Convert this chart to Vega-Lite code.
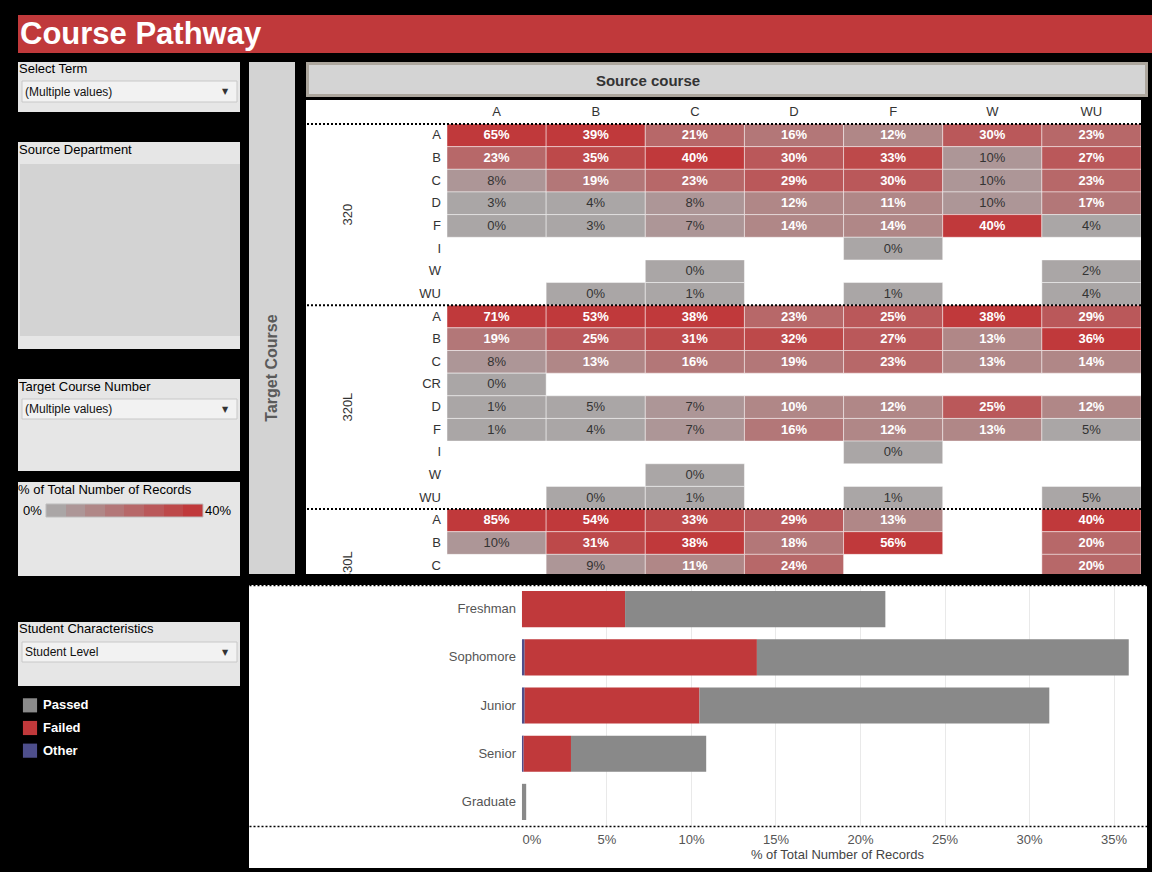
{
  "$schema": "https://vega.github.io/schema/vega-lite/v6.json",
  "background": "black",
  "padding": {"left": 18, "top": 15, "right": 0, "bottom": 4},
  "config": {"font": "Liberation Sans", "view": {"stroke": null}},
  "datasets": {
    "cells": [
      {"key":"320|A","src":"A","p":0.65},{"key":"320|A","src":"B","p":0.39},{"key":"320|A","src":"C","p":0.21},{"key":"320|A","src":"D","p":0.16},{"key":"320|A","src":"F","p":0.12},{"key":"320|A","src":"W","p":0.30},{"key":"320|A","src":"WU","p":0.23},
      {"key":"320|B","src":"A","p":0.23},{"key":"320|B","src":"B","p":0.35},{"key":"320|B","src":"C","p":0.40},{"key":"320|B","src":"D","p":0.30},{"key":"320|B","src":"F","p":0.33},{"key":"320|B","src":"W","p":0.098},{"key":"320|B","src":"WU","p":0.27},
      {"key":"320|C","src":"A","p":0.08},{"key":"320|C","src":"B","p":0.19},{"key":"320|C","src":"C","p":0.23},{"key":"320|C","src":"D","p":0.29},{"key":"320|C","src":"F","p":0.30},{"key":"320|C","src":"W","p":0.098},{"key":"320|C","src":"WU","p":0.23},
      {"key":"320|D","src":"A","p":0.03},{"key":"320|D","src":"B","p":0.04},{"key":"320|D","src":"C","p":0.08},{"key":"320|D","src":"D","p":0.12},{"key":"320|D","src":"F","p":0.11},{"key":"320|D","src":"W","p":0.098},{"key":"320|D","src":"WU","p":0.17},
      {"key":"320|F","src":"A","p":0.003},{"key":"320|F","src":"B","p":0.03},{"key":"320|F","src":"C","p":0.07},{"key":"320|F","src":"D","p":0.14},{"key":"320|F","src":"F","p":0.14},{"key":"320|F","src":"W","p":0.40},{"key":"320|F","src":"WU","p":0.04},
      {"key":"320|I","src":"F","p":0.003},
      {"key":"320|W","src":"C","p":0.003},{"key":"320|W","src":"WU","p":0.02},
      {"key":"320|WU","src":"B","p":0.004},{"key":"320|WU","src":"C","p":0.01},{"key":"320|WU","src":"F","p":0.01},{"key":"320|WU","src":"WU","p":0.04},
      {"key":"320L|A","src":"A","p":0.71},{"key":"320L|A","src":"B","p":0.53},{"key":"320L|A","src":"C","p":0.38},{"key":"320L|A","src":"D","p":0.23},{"key":"320L|A","src":"F","p":0.25},{"key":"320L|A","src":"W","p":0.38},{"key":"320L|A","src":"WU","p":0.29},
      {"key":"320L|B","src":"A","p":0.19},{"key":"320L|B","src":"B","p":0.25},{"key":"320L|B","src":"C","p":0.31},{"key":"320L|B","src":"D","p":0.32},{"key":"320L|B","src":"F","p":0.27},{"key":"320L|B","src":"W","p":0.13},{"key":"320L|B","src":"WU","p":0.36},
      {"key":"320L|C","src":"A","p":0.08},{"key":"320L|C","src":"B","p":0.13},{"key":"320L|C","src":"C","p":0.16},{"key":"320L|C","src":"D","p":0.19},{"key":"320L|C","src":"F","p":0.23},{"key":"320L|C","src":"W","p":0.13},{"key":"320L|C","src":"WU","p":0.14},
      {"key":"320L|CR","src":"A","p":0.003},
      {"key":"320L|D","src":"A","p":0.01},{"key":"320L|D","src":"B","p":0.048},{"key":"320L|D","src":"C","p":0.07},{"key":"320L|D","src":"D","p":0.104},{"key":"320L|D","src":"F","p":0.12},{"key":"320L|D","src":"W","p":0.25},{"key":"320L|D","src":"WU","p":0.12},
      {"key":"320L|F","src":"A","p":0.01},{"key":"320L|F","src":"B","p":0.04},{"key":"320L|F","src":"C","p":0.07},{"key":"320L|F","src":"D","p":0.16},{"key":"320L|F","src":"F","p":0.12},{"key":"320L|F","src":"W","p":0.13},{"key":"320L|F","src":"WU","p":0.048},
      {"key":"320L|I","src":"F","p":0.003},
      {"key":"320L|W","src":"C","p":0.003},
      {"key":"320L|WU","src":"B","p":0.003},{"key":"320L|WU","src":"C","p":0.01},{"key":"320L|WU","src":"F","p":0.01},{"key":"320L|WU","src":"WU","p":0.048},
      {"key":"330L|A","src":"A","p":0.85},{"key":"330L|A","src":"B","p":0.54},{"key":"330L|A","src":"C","p":0.33},{"key":"330L|A","src":"D","p":0.29},{"key":"330L|A","src":"F","p":0.13},{"key":"330L|A","src":"WU","p":0.40},
      {"key":"330L|B","src":"A","p":0.099},{"key":"330L|B","src":"B","p":0.31},{"key":"330L|B","src":"C","p":0.38},{"key":"330L|B","src":"D","p":0.18},{"key":"330L|B","src":"F","p":0.56},{"key":"330L|B","src":"WU","p":0.20},
      {"key":"330L|C","src":"B","p":0.09},{"key":"330L|C","src":"C","p":0.11},{"key":"330L|C","src":"D","p":0.24},{"key":"330L|C","src":"WU","p":0.20}
    ],
    "rowlabels": [
      {"key":"320|A","grade":"A"},{"key":"320|B","grade":"B"},{"key":"320|C","grade":"C"},{"key":"320|D","grade":"D"},{"key":"320|F","grade":"F"},{"key":"320|I","grade":"I"},{"key":"320|W","grade":"W"},{"key":"320|WU","grade":"WU"},
      {"key":"320L|A","grade":"A"},{"key":"320L|B","grade":"B"},{"key":"320L|C","grade":"C"},{"key":"320L|CR","grade":"CR"},{"key":"320L|D","grade":"D"},{"key":"320L|F","grade":"F"},{"key":"320L|I","grade":"I"},{"key":"320L|W","grade":"W"},{"key":"320L|WU","grade":"WU"},
      {"key":"330L|A","grade":"A"},{"key":"330L|B","grade":"B"},{"key":"330L|C","grade":"C"}
    ],
    "groups": [
      {"grp":"320","first":"320|A","mid":"320|F"},
      {"grp":"320L","first":"320L|A","mid":"320L|D"},
      {"grp":"330L","first":"330L|A","mid":"330L|C"}
    ],
    "bars": [
      {"level":"Freshman","status":"Failed","pct":0.061},{"level":"Freshman","status":"Passed","pct":0.154},
      {"level":"Sophomore","status":"Other","pct":0.0016},{"level":"Sophomore","status":"Failed","pct":0.1374},{"level":"Sophomore","status":"Passed","pct":0.220},
      {"level":"Junior","status":"Other","pct":0.0016},{"level":"Junior","status":"Failed","pct":0.1034},{"level":"Junior","status":"Passed","pct":0.207},
      {"level":"Senior","status":"Other","pct":0.001},{"level":"Senior","status":"Failed","pct":0.028},{"level":"Senior","status":"Passed","pct":0.080},
      {"level":"Graduate","status":"Passed","pct":0.0025}
    ],
    "levels": [{"level":"Freshman"},{"level":"Sophomore"},{"level":"Junior"},{"level":"Senior"},{"level":"Graduate"}]
  },
  "vconcat": [
    {
      "width": 1134, "height": 38,
      "view": {"fill": "#c0393b", "stroke": null},
      "data": {"values": [{"title": "Course Pathway"}]},
      "mark": {"type": "text", "align": "left", "baseline": "middle", "fontSize": 31, "fontWeight": "bold", "color": "white", "dy": 1},
      "encoding": {
        "text": {"field": "title"},
        "x": {"datum": 2, "type": "quantitative", "scale": {"domain": [0, 1134], "nice": false}, "axis": null}
      }
    },
    {
      "hconcat": [
        {
          "vconcat": [
            {
              "vconcat": [
                {
                  "vconcat": [
                    {
                      "width": 222, "height": 50,
                      "view": {"fill": "#e6e6e6", "stroke": null},
                      "data": {"values": [{"label": "Select Term", "value": "(Multiple values)"}]},
                      "layer": [
                        {"mark": {"type": "rect", "fill": "#f2f2f2", "stroke": "#c8c8c8", "strokeWidth": 1},
                         "encoding": {"x": {"datum": 4, "type": "quantitative", "scale": {"domain": [0, 222], "nice": false}, "axis": null}, "x2": {"datum": 219},
                                      "y": {"datum": 19, "type": "quantitative", "scale": {"domain": [0, 50], "nice": false, "reverse": true}, "axis": null}, "y2": {"datum": 40}}},
                        {"mark": {"type": "text", "align": "left", "baseline": "middle", "fontSize": 13, "color": "#000"},
                         "encoding": {"text": {"field": "label"}, "x": {"datum": 1, "type": "quantitative", "axis": null}, "y": {"datum": 7, "type": "quantitative", "axis": null}}},
                        {"mark": {"type": "text", "align": "left", "baseline": "middle", "fontSize": 12, "color": "#111"},
                         "encoding": {"text": {"field": "value"}, "x": {"datum": 7, "type": "quantitative", "axis": null}, "y": {"datum": 29.5, "type": "quantitative", "axis": null}}},
                        {"mark": {"type": "text", "align": "center", "baseline": "middle", "fontSize": 8, "color": "#333", "text": "▼", "font": "DejaVu Sans"},
                         "encoding": {"x": {"datum": 207, "type": "quantitative", "axis": null}, "y": {"datum": 30, "type": "quantitative", "axis": null}}}
                      ]
                    },
                    {
                      "width": 222, "height": 207,
                      "view": {"fill": "#e6e6e6", "stroke": null},
                      "data": {"values": [{"label": "Source Department"}]},
                      "layer": [
                        {"mark": {"type": "rect", "fill": "#d3d3d3"},
                         "encoding": {"x": {"datum": 2, "type": "quantitative", "scale": {"domain": [0, 222], "nice": false}, "axis": null}, "x2": {"datum": 222},
                                      "y": {"datum": 22, "type": "quantitative", "scale": {"domain": [0, 207], "nice": false, "reverse": true}, "axis": null}, "y2": {"datum": 194}}},
                        {"mark": {"type": "text", "align": "left", "baseline": "middle", "fontSize": 13, "color": "#000"},
                         "encoding": {"text": {"field": "label"}, "x": {"datum": 1, "type": "quantitative", "axis": null}, "y": {"datum": 8, "type": "quantitative", "axis": null}}}
                      ]
                    },
                    {
                      "width": 222, "height": 92,
                      "view": {"fill": "#e6e6e6", "stroke": null},
                      "data": {"values": [{"label": "Target Course Number", "value": "(Multiple values)"}]},
                      "layer": [
                        {"mark": {"type": "rect", "fill": "#f2f2f2", "stroke": "#c8c8c8", "strokeWidth": 1},
                         "encoding": {"x": {"datum": 4, "type": "quantitative", "scale": {"domain": [0, 222], "nice": false}, "axis": null}, "x2": {"datum": 219},
                                      "y": {"datum": 20, "type": "quantitative", "scale": {"domain": [0, 92], "nice": false, "reverse": true}, "axis": null}, "y2": {"datum": 40}}},
                        {"mark": {"type": "text", "align": "left", "baseline": "middle", "fontSize": 13, "color": "#000"},
                         "encoding": {"text": {"field": "label"}, "x": {"datum": 1, "type": "quantitative", "axis": null}, "y": {"datum": 8, "type": "quantitative", "axis": null}}},
                        {"mark": {"type": "text", "align": "left", "baseline": "middle", "fontSize": 12, "color": "#111"},
                         "encoding": {"text": {"field": "value"}, "x": {"datum": 7, "type": "quantitative", "axis": null}, "y": {"datum": 30, "type": "quantitative", "axis": null}}},
                        {"mark": {"type": "text", "align": "center", "baseline": "middle", "fontSize": 8, "color": "#333", "text": "▼", "font": "DejaVu Sans"},
                         "encoding": {"x": {"datum": 207, "type": "quantitative", "axis": null}, "y": {"datum": 30.5, "type": "quantitative", "axis": null}}}
                      ]
                    }
                  ],
                  "spacing": 30
                },
                {
                  "width": 222, "height": 94,
                  "view": {"fill": "#e6e6e6", "stroke": null},
                  "data": {"values": [{"label": "% of Total Number of Records", "lo": "0%", "hi": "40%"}]},
                  "layer": [
                    {"mark": {"type": "rect", "stroke": "#bdbdbd", "strokeWidth": 1,
                              "fill": {"gradient": "linear", "x1": 0, "y1": 0, "x2": 1, "y2": 0, "stops": [
                                {"offset": 0, "color": "#aaa6a6"}, {"offset": 0.125, "color": "#aaa6a6"},
                                {"offset": 0.125, "color": "#ad9697"}, {"offset": 0.25, "color": "#ad9697"},
                                {"offset": 0.25, "color": "#b08787"}, {"offset": 0.375, "color": "#b08787"},
                                {"offset": 0.375, "color": "#b37778"}, {"offset": 0.5, "color": "#b37778"},
                                {"offset": 0.5, "color": "#b76869"}, {"offset": 0.625, "color": "#b76869"},
                                {"offset": 0.625, "color": "#ba585a"}, {"offset": 0.75, "color": "#ba585a"},
                                {"offset": 0.75, "color": "#bd494a"}, {"offset": 0.875, "color": "#bd494a"},
                                {"offset": 0.875, "color": "#c0393b"}, {"offset": 1, "color": "#c0393b"}]}},
                     "encoding": {"x": {"datum": 28, "type": "quantitative", "scale": {"domain": [0, 222], "nice": false}, "axis": null}, "x2": {"datum": 185},
                                  "y": {"datum": 22, "type": "quantitative", "scale": {"domain": [0, 94], "nice": false, "reverse": true}, "axis": null}, "y2": {"datum": 35}}},
                    {"mark": {"type": "text", "align": "left", "baseline": "middle", "fontSize": 13, "color": "#000"},
                     "encoding": {"text": {"field": "label"}, "x": {"datum": 0, "type": "quantitative", "axis": null}, "y": {"datum": 8, "type": "quantitative", "axis": null}}},
                    {"mark": {"type": "text", "align": "left", "baseline": "middle", "fontSize": 13, "color": "#000"},
                     "encoding": {"text": {"field": "lo"}, "x": {"datum": 5, "type": "quantitative", "axis": null}, "y": {"datum": 28.5, "type": "quantitative", "axis": null}}},
                    {"mark": {"type": "text", "align": "left", "baseline": "middle", "fontSize": 13, "color": "#000"},
                     "encoding": {"text": {"field": "hi"}, "x": {"datum": 187, "type": "quantitative", "axis": null}, "y": {"datum": 28.5, "type": "quantitative", "axis": null}}}
                  ]
                }
              ],
              "spacing": 11
            },
            {
              "vconcat": [
                {
                  "width": 222, "height": 64,
                  "view": {"fill": "#e6e6e6", "stroke": null},
                  "data": {"values": [{"label": "Student Characteristics", "value": "Student Level"}]},
                  "layer": [
                    {"mark": {"type": "rect", "fill": "#f2f2f2", "stroke": "#c8c8c8", "strokeWidth": 1},
                     "encoding": {"x": {"datum": 4, "type": "quantitative", "scale": {"domain": [0, 222], "nice": false}, "axis": null}, "x2": {"datum": 219},
                                  "y": {"datum": 20, "type": "quantitative", "scale": {"domain": [0, 64], "nice": false, "reverse": true}, "axis": null}, "y2": {"datum": 40}}},
                    {"mark": {"type": "text", "align": "left", "baseline": "middle", "fontSize": 13, "color": "#000"},
                     "encoding": {"text": {"field": "label"}, "x": {"datum": 1, "type": "quantitative", "axis": null}, "y": {"datum": 7, "type": "quantitative", "axis": null}}},
                    {"mark": {"type": "text", "align": "left", "baseline": "middle", "fontSize": 12, "color": "#111"},
                     "encoding": {"text": {"field": "value"}, "x": {"datum": 7, "type": "quantitative", "axis": null}, "y": {"datum": 30, "type": "quantitative", "axis": null}}},
                    {"mark": {"type": "text", "align": "center", "baseline": "middle", "fontSize": 8, "color": "#333", "text": "▼", "font": "DejaVu Sans"},
                     "encoding": {"x": {"datum": 207, "type": "quantitative", "axis": null}, "y": {"datum": 30.5, "type": "quantitative", "axis": null}}}
                  ]
                },
                {
                  "width": 222, "height": 68,
                  "data": {"values": [{"status": "Passed"}, {"status": "Failed"}, {"status": "Other"}]},
                  "layer": [
                    {"mark": {"type": "square", "size": 200, "filled": true, "opacity": 1},
                     "encoding": {
                       "x": {"datum": 12, "type": "quantitative", "scale": {"domain": [0, 222], "nice": false}, "axis": null},
                       "y": {"field": "status", "type": "nominal", "scale": {"domain": ["Passed", "Failed", "Other"]}, "axis": null},
                       "color": {"field": "status", "type": "nominal", "scale": {"domain": ["Passed", "Failed", "Other"], "range": ["#8a8a8a", "#c0393b", "#4e4f8c"]}, "legend": null}}},
                    {"mark": {"type": "text", "align": "left", "baseline": "middle", "fontSize": 13, "fontWeight": "bold", "color": "white"},
                     "encoding": {
                       "x": {"datum": 25, "type": "quantitative", "axis": null},
                       "y": {"field": "status", "type": "nominal", "axis": null},
                       "text": {"field": "status"}}}
                  ]
                }
              ],
              "spacing": 8
            }
          ],
          "spacing": 46
        },
        {
          "vconcat": [
            {
              "hconcat": [
                {
                  "width": 46, "height": 512,
                  "view": {"fill": "#d3d3d3", "stroke": null},
                  "data": {"values": [{"t": "Target Course"}]},
                  "mark": {"type": "text", "angle": 270, "align": "center", "baseline": "middle", "fontSize": 16, "fontWeight": "bold", "color": "#5a5a5a"},
                  "encoding": {
                    "text": {"field": "t"},
                    "y": {"datum": 306, "type": "quantitative", "scale": {"domain": [0, 512], "nice": false, "reverse": true}, "axis": null}
                  }
                },
                {
                  "vconcat": [
                    {
                      "width": 842, "height": 35,
                      "view": {"fill": "#d4d4d4", "stroke": null},
                      "data": {"values": [{"t": "Source course"}]},
                      "layer": [
                        {"mark": {"type": "rect", "fill": "#d4d4d4", "stroke": "#aca69d", "strokeWidth": 3},
                         "encoding": {"x": {"datum": 1.5, "type": "quantitative", "scale": {"domain": [0, 842], "nice": false}, "axis": null}, "x2": {"datum": 840.5},
                                      "y": {"datum": 1.5, "type": "quantitative", "scale": {"domain": [0, 35], "nice": false, "reverse": true}, "axis": null}, "y2": {"datum": 33.5}}},
                        {"mark": {"type": "text", "align": "center", "baseline": "middle", "fontSize": 15, "fontWeight": "bold", "color": "#333"},
                         "encoding": {"text": {"field": "t"}, "x": {"datum": 342, "type": "quantitative", "axis": null}, "y": {"datum": 19, "type": "quantitative", "axis": null}}}
                      ]
                    },
                    {
                      "width": 835, "height": 474,
                      "view": {"fill": "white", "stroke": null},
                      "layer": [
                        {
                          "data": {"name": "cells"},
                          "mark": {"type": "rect", "clip": true, "stroke": "white", "strokeOpacity": 0.45, "strokeWidth": 1},
                          "encoding": {
                            "x": {"field": "src", "type": "nominal",
                                  "scale": {"domain": ["A", "B", "C", "D", "F", "W", "WU"], "range": [141, 835], "paddingInner": 0, "paddingOuter": 0},
                                  "axis": {"orient": "top", "offset": -24, "title": null, "labelAngle": 0, "ticks": false, "domain": false, "grid": false, "labelPadding": 6, "labelFontSize": 13, "labelColor": "#333"}},
                            "y": {"field": "key", "type": "nominal",
                                  "scale": {"domain": ["320|A","320|B","320|C","320|D","320|F","320|I","320|W","320|WU","320L|A","320L|B","320L|C","320L|CR","320L|D","320L|F","320L|I","320L|W","320L|WU","330L|A","330L|B","330L|C","330L|D","330L|F"],
                                            "range": [24, 522.3], "paddingInner": 0, "paddingOuter": 0},
                                  "axis": null},
                            "color": {"field": "p", "type": "quantitative",
                                      "scale": {"type": "quantize", "domain": [0, 0.4], "range": ["#aaa6a6", "#ad9697", "#b08787", "#b37778", "#b76869", "#ba585a", "#bd494a", "#c0393b"]},
                                      "legend": null}
                          }
                        },
                        {
                          "data": {"name": "cells"},
                          "transform": [{"filter": "datum.p >= 0.1"}],
                          "mark": {"type": "text", "clip": true, "fontSize": 13, "fontWeight": "bold", "color": "white", "baseline": "middle"},
                          "encoding": {
                            "x": {"field": "src", "type": "nominal", "axis": {"orient": "top", "offset": -24, "title": null, "labelAngle": 0, "ticks": false, "domain": false, "grid": false, "labelPadding": 6, "labelFontSize": 13, "labelColor": "#333"}},
                            "y": {"field": "key", "type": "nominal", "axis": null},
                            "text": {"field": "p", "type": "quantitative", "format": ".0%"}
                          }
                        },
                        {
                          "data": {"name": "cells"},
                          "transform": [{"filter": "datum.p < 0.1"}],
                          "mark": {"type": "text", "clip": true, "fontSize": 13, "color": "#333", "baseline": "middle"},
                          "encoding": {
                            "x": {"field": "src", "type": "nominal", "axis": {"orient": "top", "offset": -24, "title": null, "labelAngle": 0, "ticks": false, "domain": false, "grid": false, "labelPadding": 6, "labelFontSize": 13, "labelColor": "#333"}},
                            "y": {"field": "key", "type": "nominal", "axis": null},
                            "text": {"field": "p", "type": "quantitative", "format": ".0%"}
                          }
                        },
                        {
                          "data": {"name": "groups"},
                          "mark": {"type": "rule", "strokeDash": [2, 2], "strokeWidth": 2, "color": "black"},
                          "encoding": {
                            "y": {"field": "first", "type": "nominal", "bandPosition": 0, "axis": null}
                          }
                        },
                        {
                          "data": {"name": "rowlabels"},
                          "mark": {"type": "text", "align": "right", "baseline": "middle", "dx": -6, "fontSize": 13, "color": "#333", "clip": true},
                          "encoding": {
                            "x": {"datum": "A", "type": "nominal", "bandPosition": 0, "axis": {"orient": "top", "offset": -24, "title": null, "labelAngle": 0, "ticks": false, "domain": false, "grid": false, "labelPadding": 6, "labelFontSize": 13, "labelColor": "#333"}},
                            "y": {"field": "key", "type": "nominal", "axis": null},
                            "text": {"field": "grade"}
                          }
                        },
                        {
                          "data": {"name": "groups"},
                          "transform": [{"filter": "datum.grp == '320'"}],
                          "mark": {"type": "text", "angle": 270, "align": "center", "baseline": "middle", "fontSize": 13, "color": "#333", "clip": true},
                          "encoding": {
                            "x": {"datum": "A", "type": "nominal", "bandPosition": -0.995, "axis": {"orient": "top", "offset": -24, "title": null, "labelAngle": 0, "ticks": false, "domain": false, "grid": false, "labelPadding": 6, "labelFontSize": 13, "labelColor": "#333"}},
                            "y": {"field": "mid", "type": "nominal", "bandPosition": 0, "axis": null},
                            "text": {"field": "grp"}
                          }
                        },
                        {
                          "data": {"name": "groups"},
                          "transform": [{"filter": "datum.grp != '320'"}],
                          "mark": {"type": "text", "angle": 270, "align": "center", "baseline": "middle", "fontSize": 13, "color": "#333", "clip": true},
                          "encoding": {
                            "x": {"datum": "A", "type": "nominal", "bandPosition": -0.995, "axis": {"orient": "top", "offset": -24, "title": null, "labelAngle": 0, "ticks": false, "domain": false, "grid": false, "labelPadding": 6, "labelFontSize": 13, "labelColor": "#333"}},
                            "y": {"field": "mid", "type": "nominal", "bandPosition": 0.5, "axis": null},
                            "text": {"field": "grp"}
                          }
                        }
                      ]
                    }
                  ],
                  "spacing": 3
                }
              ],
              "spacing": 10
            },
            {
              "width": 898, "height": 283,
              "view": {"fill": "white", "stroke": null},
              "layer": [
                {
                  "data": {"name": "bars"},
                  "transform": [{"calculate": "indexof(['Other', 'Failed', 'Passed'], datum.status)", "as": "stackOrder"}],
                  "mark": {"type": "bar"},
                  "encoding": {
                    "x": {"field": "pct", "type": "quantitative", "stack": "zero",
                          "scale": {"domain": [-0.1615, 0.3698], "nice": false, "zero": false},
                          "axis": {"orient": "bottom", "offset": -42, "values": [0, 0.05, 0.1, 0.15, 0.2, 0.25, 0.3, 0.35], "format": ".0%",
                                   "labelAlign": {"condition": {"test": "datum.value === 0", "value": "left"}, "value": "center"},
                                   "labelFlush": false, "labelFontSize": 13, "labelColor": "#555", "labelPadding": 7,
                                   "ticks": false, "grid": false, "domain": true, "domainDash": [2, 2], "domainColor": "#000", "domainWidth": 1.5,
                                   "title": "% of Total Number of Records", "titleFontSize": 13, "titleFontWeight": "normal", "titleColor": "#444", "titlePadding": 2, "titleX": 588}},
                    "y": {"field": "level", "type": "nominal",
                          "scale": {"domain": ["Freshman", "Sophomore", "Junior", "Senior", "Graduate"], "range": [0, 241], "paddingInner": 0.25, "paddingOuter": 0.125},
                          "axis": null},
                    "color": {"field": "status", "type": "nominal",
                              "scale": {"domain": ["Other", "Failed", "Passed"], "range": ["#4e4f8c", "#c0393b", "#898989"]},
                              "legend": null},
                    "order": {"field": "stackOrder", "type": "quantitative", "sort": "ascending"}
                  }
                },
                {
                  "data": {"name": "levels"},
                  "mark": {"type": "text", "align": "right", "baseline": "middle", "dx": -6, "fontSize": 13, "color": "#555"},
                  "encoding": {
                    "x": {"datum": 0, "type": "quantitative",
                          "axis": {"orient": "top", "values": [0.05, 0.1, 0.15, 0.2, 0.25, 0.3, 0.35], "grid": true, "gridColor": "#e9e9e9",
                                   "labels": false, "ticks": false, "domain": true, "domainDash": [2, 2], "domainColor": "#000", "domainWidth": 1.5, "title": null}},
                    "y": {"field": "level", "type": "nominal", "axis": null},
                    "text": {"field": "level"}
                  }
                }
              ],
              "resolve": {"axis": {"x": "independent"}}
            }
          ],
          "spacing": 11
        }
      ],
      "spacing": 9
    }
  ],
  "spacing": 9
}
